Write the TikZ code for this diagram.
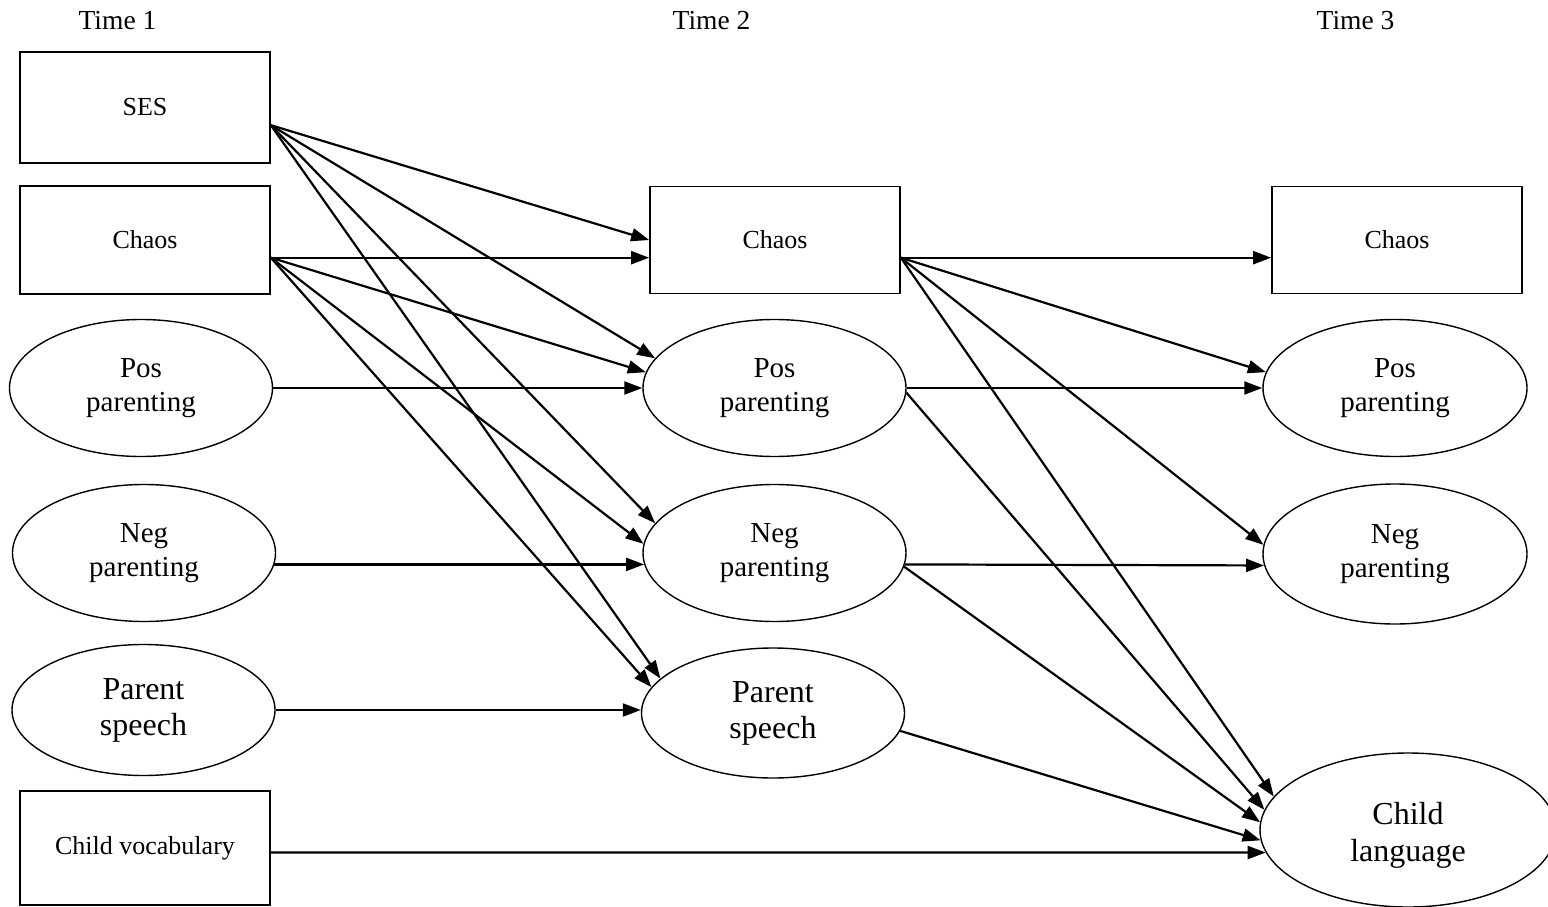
\documentclass[tikz,border=0pt]{standalone}
\usepackage{fontspec}
\setmainfont{Liberation Serif}
\usetikzlibrary{arrows.meta,shapes.geometric,calc}
\begin{document}
\begin{tikzpicture}[x=1pt,y=-1pt,
  box/.style={draw,line width=1.7pt,rectangle,minimum width=250pt,inner sep=0pt,font=\fontsize{26}{30}\selectfont},
  oval/.style={draw,line width=1.4pt,ellipse,minimum width=263pt,minimum height=137pt,inner sep=0pt,align=center,font=\fontsize{29}{34}\selectfont},
  speechoval/.style={oval,font=\fontsize{32}{36}\selectfont},
  timelbl/.style={anchor=base,inner sep=0pt,font=\fontsize{27.5}{30}\selectfont},
  arr/.style={line width=2.2pt,-{Triangle[length=18pt,width=13pt]}}
]
\useasboundingbox (0,0) rectangle (1548,907);

% time labels
\node[timelbl] (t1) at (117.5,30) {Time 1};
\node[timelbl] (t2) at (711.5,30) {Time 2};
\node[timelbl] (t3) at (1355.5,30) {Time 3};

% Time 1
\node[box,minimum height=111pt] (ses) at (145,107.5) {SES};
\node[box,minimum height=108pt] (c1) at (145,240) {Chaos};
\node[oval] (p1) at (141,388) {Pos\\parenting};
\node[oval] (n1) at (144,553) {Neg\\parenting};
\node[speechoval,minimum height=131pt] (s1) at (143.5,710) {Parent\\speech};
\node[box,minimum height=114pt] (v) at (145,848) {Child vocabulary};

% Time 2
\node[box,minimum height=107pt] (c2) at (775,240) {Chaos};
\node[oval] (p2) at (774.5,388) {Pos\\parenting};
\node[oval] (n2) at (774.5,553) {Neg\\parenting};
\node[speechoval,minimum height=130pt] (s2) at (773,713) {Parent\\speech};

% Time 3
\node[box,minimum height=107pt] (c3) at (1397,240) {Chaos};
\node[oval,minimum width=264pt] (p3) at (1395,388) {Pos\\parenting};
\node[oval,minimum width=264pt,minimum height=140pt] (n3) at (1395,554) {Neg\\parenting};
\node[oval,minimum width=296pt,minimum height=154pt,font=\fontsize{32}{37}\selectfont] (cl) at (1408,830) {\rule{0pt}{32pt}Child\\language};

% arrows from SES
\draw[arr] (ses.-8.9) -- (c2.west);
\draw[arr] (ses.-8.9) -- (p2.166.5);
\draw[arr] (ses.-8.9) -- (n2.166.8);
\draw[arr] (ses.-8.9) -- (s2.163.2);
% arrows from Chaos T1
\draw[arr] (c1.-8.2) -- (c2.188.2);
\draw[arr] (c1.-8.2) -- (p2.173.5);
\draw[arr] (c1.-8.2) -- (n2.176.4);
\draw[arr] (c1.-8.2) -- (s2.168.5);
% stability arrows T1 -> T2
\draw[arr] (p1.east) -- (p2.west);
\draw[arr] (n1.-5) -- (n2.185);
\draw[arr] (s1.east) -- (s1.east -| s2.west);
\draw[arr] (v.-2.75) -- (cl.189.2);
% arrows from Chaos T2
\draw[arr] (c2.-8) -- (c3.188);
\draw[arr] (c2.-8) -- (p3.173.5);
\draw[arr] (c2.-8) -- (n3.176.5);
\draw[arr] (c2.-8) -- (cl.166.8);
% T2 -> T3
\draw[arr] (p2.east) -- (p3.west);
\draw[arr] (p2.-2) -- (cl.172.3);
\draw[arr] (n2.-5) -- (n3.185);
\draw[arr] (n2.-6) -- (cl.177.3);
\draw[arr] (s2.-8.6) -- (cl.184.6);
\end{tikzpicture}
\end{document}
